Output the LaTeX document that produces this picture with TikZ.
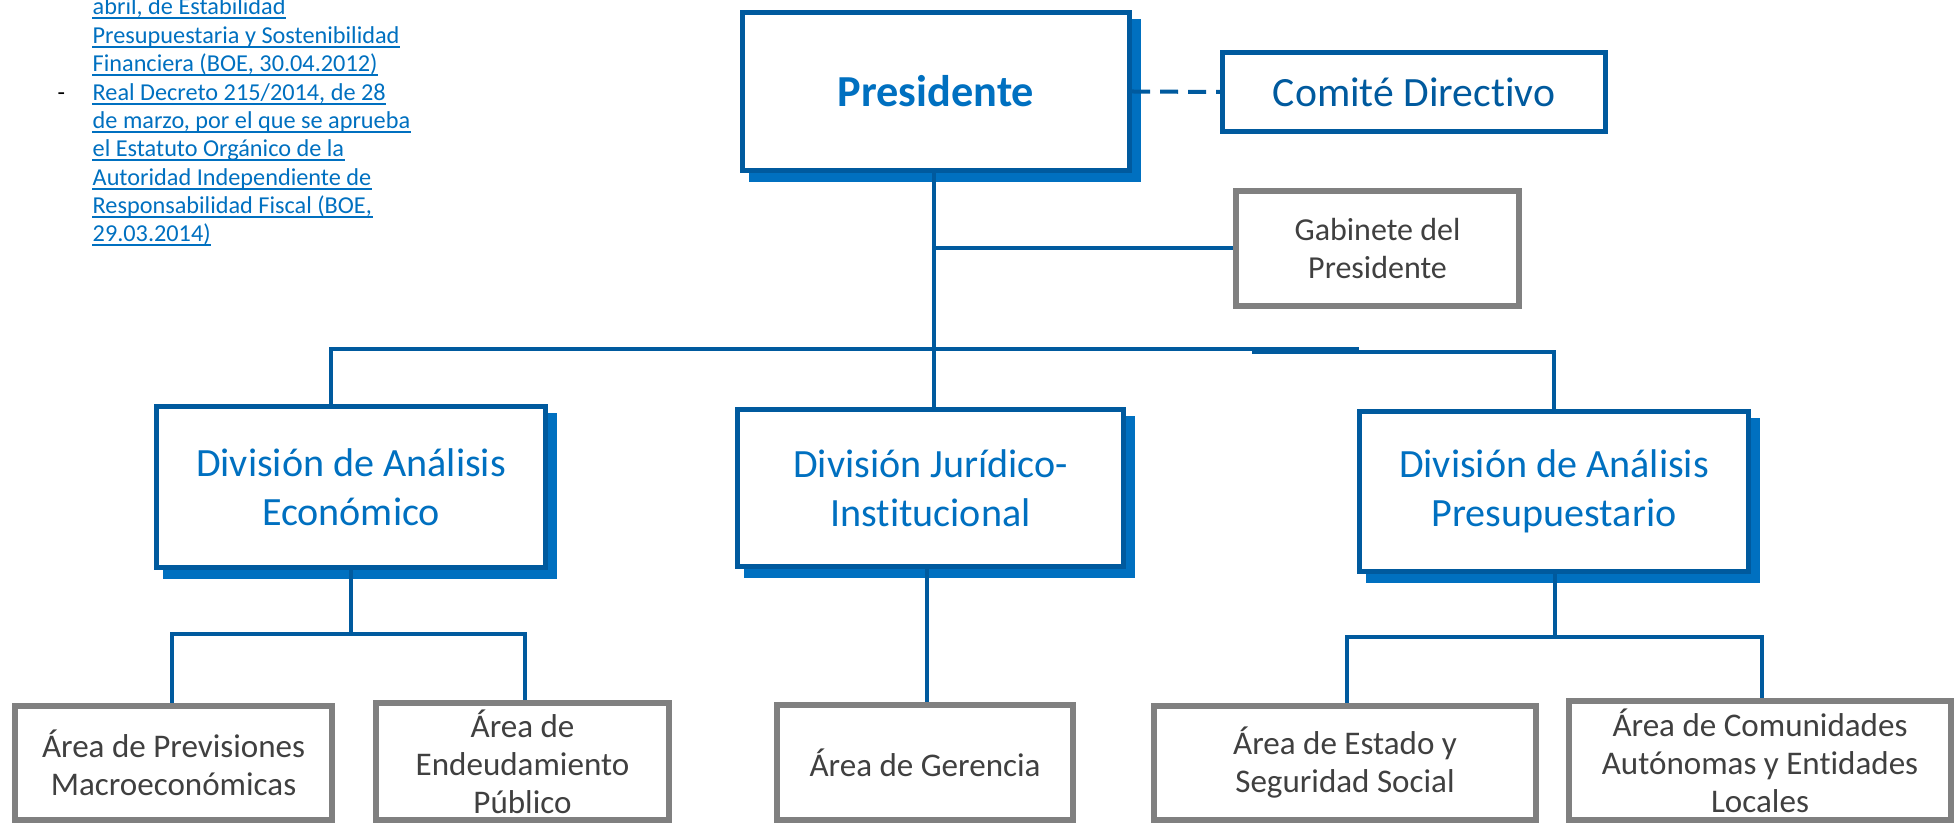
\documentclass[tikz,border=0pt]{standalone}
\usepackage{fontspec}
\setmainfont{Carlito}[Ligatures=NoCommon]
\usetikzlibrary{backgrounds}
\definecolor{bdark}{HTML}{005A9E}
\definecolor{blight}{HTML}{0070C0}
\definecolor{gbord}{HTML}{808080}
\definecolor{gtext}{HTML}{404040}
\tikzset{
 bluebox/.style={draw=bdark, line width=0.05cm, fill=white, inner sep=0pt, align=center, text=blight},
 graybox/.style={draw=gbord, line width=0.06cm, fill=white, inner sep=0pt, align=center, text=gtext, font=\fontsize{9.4}{10.8}\selectfont},
 divfont/.style={font=\fontsize{11.4}{14}\selectfont},
 conn/.style={draw=bdark, line width=0.04cm},
 linktext/.style={anchor=base west, inner sep=0pt, text=blight, font=\fontsize{6.9}{8}\selectfont},
 shadowfill/.style={fill=blight},
}
\begin{document}
\begin{tikzpicture}[x=0.01cm, y=-0.01cm]
\useasboundingbox (0,0) rectangle (1958,825);

% left text block
\foreach \t [count=\i] in {{abril, de Estabilidad},{Presupuestaria y Sostenibilidad},{Financiera (BOE, 30.04.2012)},{Real Decreto 215/2014, de 28},{de marzo, por el que se aprueba},{el Estatuto Orgánico de la},{Autoridad Independiente de},{Responsabilidad Fiscal (BOE,},{29.03.2014)}}{
  \node[linktext] (l\i) at (92,{15+28.375*(\i-1)}) {\t};
  \draw[blight, line width=0.02cm] ([yshift=-0.035cm]l\i.base west) -- ([yshift=-0.035cm]l\i.base east);
}
\node[anchor=base west, inner sep=0pt, font=\fontsize{6.9}{8}\selectfont] (dsh) at (57,101) {-};

% top level
\node[bluebox, minimum width=3.87cm, minimum height=1.58cm, font=\bfseries\fontsize{12.6}{15}\selectfont] (pres) at (936,91.5) {Presidente};
\node[bluebox, text=bdark, minimum width=3.83cm, minimum height=0.79cm, font=\fontsize{11.85}{14}\selectfont] (com) at (1414,92) {Comité Directivo};
\node[graybox, minimum width=2.83cm, minimum height=1.15cm, font=\fontsize{9.1}{10.8}\selectfont] (gab) at (1377.5,248.5) {Gabinete del\\Presidente};

% divisions
\node[bluebox, divfont, minimum width=3.89cm, minimum height=1.61cm] (eco) at (351,487) {División de Análisis\\Económico};
\node[bluebox, divfont, minimum width=3.86cm, minimum height=1.57cm] (jur) at (930.5,488) {División Jurídico-\\Institucional};
\node[bluebox, divfont, minimum width=3.89cm, minimum height=1.60cm] (pre) at (1554,491.5) {División de Análisis\\Presupuestario};

% areas
\node[graybox, minimum width=3.17cm, minimum height=1.14cm] (prev) at (173.5,763) {Área de Previsiones\\Macroeconómicas};
\node[graybox, minimum width=2.93cm, minimum height=1.17cm] (endeu) at (522.5,761.5) {Área de\\Endeudamiento\\Público};
\node[graybox, minimum width=2.96cm, minimum height=1.15cm] (ger) at (925,762.5) {Área de Gerencia};
\node[graybox, minimum width=3.82cm, minimum height=1.14cm] (est) at (1345,763) {Área de Estado y\\Seguridad Social};
\node[graybox, minimum width=3.82cm, minimum height=1.19cm] (comu) at (1760,760.5) {Área de Comunidades\\Autónomas y Entidades\\Locales};

% shadows
\begin{scope}[on background layer]
\foreach \n in {pres,eco,jur,pre}{
  \fill[shadowfill] ([shift={(9,9)}]\n.north west) rectangle ([shift={(9,9)}]\n.south east);
}
\end{scope}

% connectors
\coordinate (tx) at (934,0);
\draw[conn, dash pattern=on 0.18cm off 0.10cm] (pres.east) -- (com.west);
\draw[conn] (pres.south -| tx) -- (jur.north -| tx);
\draw[conn] (tx |- gab.west) -- (gab.west);

\coordinate (b1) at (331,349);
\coordinate (b2) at (1359,349);
\coordinate (b3) at (1252,352);
\coordinate (b4) at (1554,352);
\draw[conn] (eco.north -| b1) -- (b1) -- (b2);
\draw[conn] (b3) -- (b4) -- (pre.north -| b4);

\coordinate (e1) at (351,634);
\coordinate (e2) at (172,634);
\coordinate (e3) at (525,634);
\draw[conn] (eco.south -| e1) -- (e1);
\draw[conn] (prev.north -| e2) -- (e2) -- (e3) -- (endeu.north -| e3);

\coordinate (j1) at (927,0);
\draw[conn] (jur.south -| j1) -- (ger.north -| j1);

\coordinate (p1) at (1555,637);
\coordinate (p2) at (1347,637);
\coordinate (p3) at (1762,637);
\draw[conn] (pre.south -| p1) -- (p1);
\draw[conn] (est.north -| p2) -- (p2) -- (p3) -- (comu.north -| p3);
\end{tikzpicture}
\end{document}
